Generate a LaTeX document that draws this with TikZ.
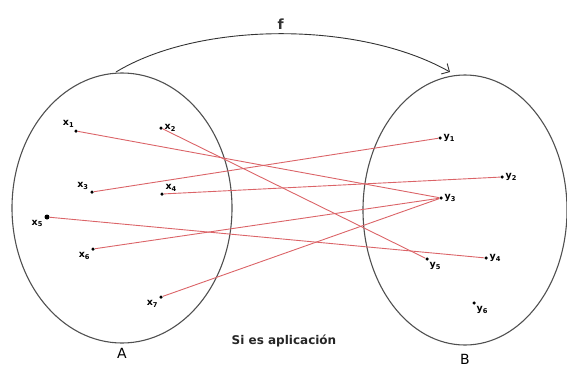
\documentclass[tikz,border=0pt]{standalone}
\usepackage{fontspec}
\setmainfont{DejaVu Sans}
\usetikzlibrary{arrows.meta,shapes.geometric}
\definecolor{mapcol}{HTML}{DB6468}
\definecolor{setcol}{HTML}{505050}
\newcommand{\xlab}[1]{\textbf{x}\textsubscript{\textbf{#1}}}
\newcommand{\ylab}[1]{\textbf{y}\textsubscript{\textbf{#1}}}

\begin{document}
\begin{tikzpicture}[x=1pt, y=-1pt,
    setbox/.style={ellipse, draw=setcol, line width=1.1pt, inner sep=0pt},
    elem/.style={circle, fill=black, inner sep=0pt, minimum size=3.5pt},
    elemlabel/.style={font=\fontsize{9.5}{10}\selectfont, inner sep=1.5pt},
    setname/.style={font=\fontsize{14}{16}\selectfont},
    maparr/.style={mapcol, line width=0.9pt},
  ]
  \useasboundingbox (0,0) rectangle (567,367);

  % =================== SET A ===================
  \node[setbox, minimum width=220pt, minimum height=270pt,
    label={[setname, label distance=1pt]below:A}] (A) at (122,208) {};
  \node[elem, label={[elemlabel]95:\xlab{1}}] (x1) at (76,131) {};
  \node[elem, label={[elemlabel]right:\xlab{2}}] (x2) at (161,128) {};
  \node[elem, label={[elemlabel]150:\xlab{3}}] (x3) at (92,192) {};
  \node[elem, label={[elemlabel]20:\xlab{4}}] (x4) at (162,194) {};
  \node[elem, minimum size=5pt, label={[elemlabel]210:\xlab{5}}] (x5) at (47,217) {};
  \node[elem, label={[elemlabel]230:\xlab{6}}] (x6) at (93,249) {};
  \node[elem, label={[elemlabel]230:\xlab{7}}] (x7) at (161,297) {};

  % =================== SET B ===================
  \node[setbox, minimum width=204pt, minimum height=270pt,
    label={[setname, label distance=5pt]below:B}] (B) at (465,210) {};
  \node[elem, label={[elemlabel]right:\ylab{1}}] (y1) at (440,138) {};
  \node[elem, label={[elemlabel]right:\ylab{2}}] (y2) at (502,177) {};
  \node[elem, label={[elemlabel]right:\ylab{3}}] (y3) at (441,198) {};
  \node[elem, label={[elemlabel]right:\ylab{4}}] (y4) at (486,258) {};
  \node[elem, label={[elemlabel]-60:\ylab{5}}] (y5) at (427,259) {};
  \node[elem, label={[elemlabel]-60:\ylab{6}}] (y6) at (474,303) {};

  % =================== MAPPING ===================
  \draw[maparr] (x1) -- (y3);
  \draw[maparr] (x2) -- (y5);
  \draw[maparr] (x3) -- (y1);
  \draw[maparr] (x4) -- (y2);
  \draw[maparr] (x5) -- (y4);
  \draw[maparr] (x6) -- (y3);
  \draw[maparr] (x7) -- (y3);

  % =================== FUNCTION f ===================
  \coordinate (fs) at (116,72);
  \coordinate (fe) at (450,72);
  \draw[-{Straight Barb[length=6pt]}, black!80, line width=0.9pt]
    (fs) .. controls (200,21) and (360,21) .. (fe)
    node[pos=0.5, above, font=\fontsize{14}{16}\selectfont\bfseries] (f) {f};

  \node[font=\fontsize{12}{14}\selectfont\bfseries, text=black!85] (caption)
    at (284,341) {Si es aplicación};
\end{tikzpicture}
\end{document}
